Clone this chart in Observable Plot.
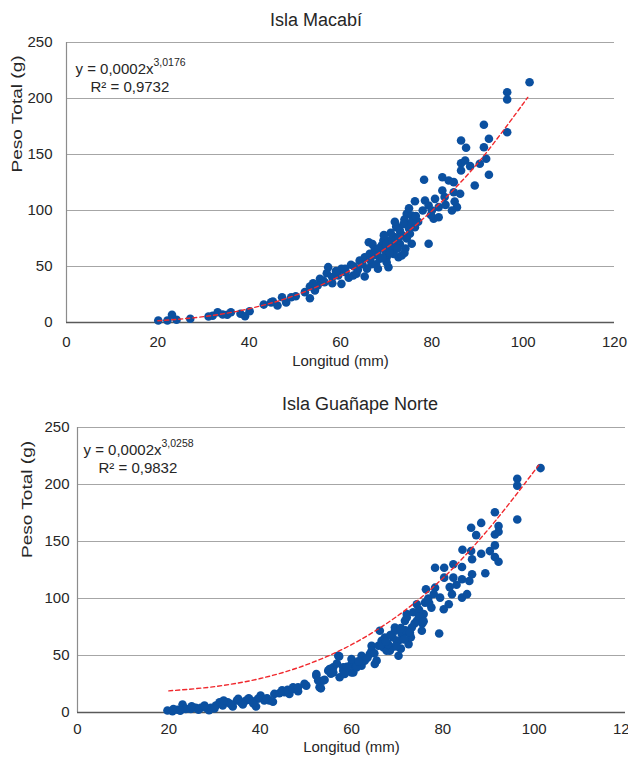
<!DOCTYPE html>
<html>
<head>
<meta charset="utf-8">
<script src="https://cdn.jsdelivr.net/npm/d3@7"></script>
<script src="https://cdn.jsdelivr.net/npm/@observablehq/plot@0.6"></script>
<style>
  body { margin: 0; background: #fff; font-family: "Liberation Sans", Arial, sans-serif; }
  #page { position: relative; width: 628px; height: 760px; overflow: hidden; background: #fff; }
  .title { position: absolute; font-size: 18px; line-height: 18px; color: #262626; white-space: nowrap; transform: translateX(-50%); }
  .chart { position: absolute; left: 0; }
</style>
</head>
<body>
<div id="page">
  <div class="title" style="left:316px; top:11px;">Isla Macabí</div>
  <div class="chart" id="macabi" style="top:32px;"></div>
  <div class="title" style="left:360px; top:395px;">Isla Guañape Norte</div>
  <div class="chart" id="guanape" style="top:417px;"></div>
</div>
<script>
// Axis ticks shared by both panels
const xTicks = [0, 20, 40, 60, 80, 100, 120];
const yTicks = [0, 50, 100, 150, 200, 250];

// Isla Macabí: total length (mm) and total weight (g) of each specimen
const macabiLength = [
  20.1, 22.1, 23.1, 24.1, 27.1, 31.1, 32.0, 33.1, 34.2, 35.2, 36.0, 38.1, 39.1, 40.1,
  43.2, 44.8, 45.2, 46.2, 47.2, 48.1, 49.2, 50.2, 52.2, 53.3, 53.3, 54.4, 55.5, 56.2,
  57.3, 58.2, 58.2, 60.2, 60.2, 61.1, 62.3, 62.8, 63.5, 64.2, 65.3, 65.3, 66.2, 66.4,
  67.5, 68.6, 69.4, 70.1, 70.5, 71.2, 72.2, 72.7, 101.4, 96.5, 96.5, 96.5, 91.4, 92.5,
  91.4, 91.9, 92.5, 90.5, 86.4, 87.5, 86.4, 87.3, 86.4, 88.4, 89.4, 78.3, 82.3, 83.7,
  84.8, 82.3, 84.8, 86.2, 85.5, 84.4, 76.3, 78.5, 79.3, 80.7, 81.5, 80.4, 81.5, 79.3,
  74.5, 75.6, 74.9, 76.3, 75.2, 72.3, 73.0, 70.5, 69.0, 71.6, 70.1, 73.4, 75.6, 74.0,
  75.0, 73.5, 74.2, 72.0, 68.0, 67.0, 69.8, 71.0, 76.0, 77.0, 66.8, 68.2, 63.8, 64.8,
  61.8, 59.5, 57.0, 56.5, 80.0, 82.8, 83.0, 79.8, 85.0, 78.0, 65.8, 66.5, 67.2, 68.3,
  69.2, 70.0, 70.8, 71.5, 72.5, 73.0, 73.8, 74.5, 75.0, 75.8, 76.5, 74.0, 72.8, 71.9,
  69.5, 67.8, 63.0, 61.0, 59.0, 55.0, 54.0
];
const macabiWeight = [
  1.8, 1.8, 6.9, 2.4, 3.3, 5.4, 6.0, 9.2, 7.1, 6.9, 9.2, 7.8, 5.6, 10.1,
  16.0, 18.0, 18.8, 15.2, 22.6, 17.9, 22.6, 23.5, 27.1, 32.1, 21.7, 28.6, 39.0, 37.5,
  49.4, 40.5, 35.1, 47.9, 34.5, 44.9, 51.5, 42.0, 43.5, 55.4, 41.1, 58.3, 71.7, 61.3,
  65.8, 56.9, 73.2, 58.3, 49.4, 67.2, 85.7, 58.3, 214.5, 205.6, 199.1, 169.9, 176.5, 164.0,
  156.5, 146.2, 131.9, 141.7, 162.5, 156.0, 142.2, 144.6, 135.7, 139.6, 122.3, 127.4, 129.7, 126.8,
  125.3, 117.9, 116.3, 114.9, 103.0, 100.0, 108.3, 108.9, 104.5, 110.4, 103.0, 92.6, 94.0, 70.3,
  97.0, 95.5, 88.1, 85.1, 79.2, 85.1, 70.3, 73.2, 68.8, 61.3, 53.8, 59.8, 70.3, 92.0,
  102.0, 78.0, 66.0, 76.0, 62.0, 70.0, 64.0, 80.0, 92.0, 90.0, 52.0, 48.0, 47.0, 52.0,
  40.0, 42.0, 44.0, 36.0, 100.0, 112.0, 105.0, 96.0, 108.0, 100.0, 48.0, 56.0, 60.0, 66.0,
  58.0, 70.0, 62.0, 72.0, 66.0, 82.0, 88.0, 75.0, 84.0, 90.0, 95.0, 62.0, 76.0, 90.0,
  78.0, 52.0, 50.0, 48.0, 46.0, 33.0, 35.0
];
// Isla Macabí: fitted power trend
const macabiTrendLength = [20, 30, 40, 50, 60, 70, 80, 90, 101];
const macabiTrendWeight = [1.5, 5.2, 12.3, 24.1, 41.8, 66.5, 99.6, 142, 201];

// Isla Guañape Norte: total length (mm) and total weight (g) of each specimen
const guanapeLength = [
  19.7, 20.8, 21.9, 23.0, 23.7, 24.8, 25.9, 27.0, 28.1, 29.2, 30.3, 31.1, 31.8, 32.9,
  34.0, 34.9, 35.8, 36.9, 38.0, 39.1, 40.1, 40.9, 42.0, 43.1, 44.2, 45.3, 46.4, 47.2,
  48.3, 21.0, 22.5, 26.5, 28.8, 30.0, 33.5, 36.2, 37.5, 39.5, 41.5, 42.8, 44.8, 46.0,
  25.0, 27.8, 32.0, 35.2, 38.5, 49.7, 52.3, 53.0, 53.8, 54.9, 56.0, 57.1, 58.2, 60.0,
  60.0, 62.2, 62.2, 64.0, 64.4, 65.5, 66.2, 47.2, 48.3, 50.1, 52.3, 52.7, 53.3, 54.1,
  55.2, 56.0, 57.4, 57.3, 58.2, 58.5, 60.0, 60.4, 61.1, 62.9, 64.4, 65.1, 65.9, 67.0,
  67.3, 68.4, 69.5, 69.9, 70.3, 71.0, 71.7, 72.1, 72.5, 101.4, 96.3, 96.3, 96.3, 91.4,
  92.2, 92.2, 91.4, 88.4, 86.2, 87.3, 91.4, 90.3, 91.4, 92.2, 88.4, 89.3, 84.3, 86.2,
  86.4, 86.4, 85.8, 84.2, 84.2, 82.3, 82.3, 80.3, 78.3, 80.3, 82.0, 84.2, 85.3, 81.3,
  80.2, 79.4, 78.3, 76.3, 76.1, 74.3, 75.8, 74.3, 75.4, 73.2, 72.1, 71.4, 69.5, 70.3,
  79.2, 67.7, 66.6, 68.8, 73.5, 74.8, 75.5, 73.0, 71.8, 70.8, 68.0, 69.0, 76.8, 77.5,
  83.0, 81.5, 61.5, 63.5, 65.0, 66.5, 67.5, 68.5, 69.8, 70.8, 71.5, 72.8, 73.8, 74.8,
  75.8, 77.0, 78.0, 59.0, 56.8, 55.5
];
const guanapeWeight = [
  1.7, 1.1, 2.4, 7.0, 3.2, 3.2, 4.1, 4.1, 4.1, 4.1, 6.1, 9.0, 6.1, 9.0,
  5.2, 10.5, 9.0, 10.5, 10.5, 5.2, 14.9, 10.5, 10.5, 16.3, 16.9, 17.7, 16.3, 22.1,
  18.6, 3.0, 1.5, 2.5, 2.0, 3.5, 7.5, 7.0, 12.5, 12.0, 12.5, 9.5, 19.5, 20.0,
  5.5, 6.0, 10.5, 12.0, 8.0, 25.1, 33.8, 22.1, 28.0, 36.7, 39.6, 49.8, 36.7, 42.6,
  35.2, 49.8, 41.1, 51.3, 58.6, 45.5, 71.7, 20.7, 22.1, 23.6, 32.3, 28.0, 21.2, 28.6,
  38.2, 35.2, 30.9, 49.2, 39.6, 33.8, 46.9, 35.2, 39.6, 45.5, 54.2, 42.6, 58.6, 57.1,
  65.8, 54.2, 74.6, 62.9, 49.8, 68.8, 80.4, 86.3, 60.0, 214.4, 205.1, 199.0, 169.3, 175.7,
  163.5, 158.5, 156.2, 166.3, 162.0, 155.6, 146.6, 141.6, 136.4, 132.3, 139.3, 122.1, 142.8, 141.6,
  134.4, 121.2, 115.4, 116.9, 127.6, 130.0, 118.3, 127.0, 127.0, 118.3, 103.8, 100.8, 103.8, 95.0,
  90.6, 100.8, 109.5, 108.1, 96.4, 95.0, 86.3, 80.4, 71.7, 74.6, 83.3, 68.8, 71.7, 62.9,
  69.3, 54.2, 62.9, 57.1, 88.0, 90.0, 78.0, 66.0, 72.0, 56.0, 60.0, 66.0, 100.0, 92.0,
  112.0, 110.0, 45.0, 48.0, 52.0, 60.0, 62.0, 68.0, 58.0, 74.0, 64.0, 70.0, 78.0, 84.0,
  80.0, 96.0, 104.0, 40.0, 43.0, 34.0
];
// Isla Guañape Norte: fitted power trend
const guanapeTrendLength = [20, 30, 40, 50, 60, 70, 80, 90, 101];
const guanapeTrendWeight = [19, 22.7, 29.8, 41.7, 59.5, 84.5, 117.8, 160.8, 217];

const FONT = '"Liberation Sans", Arial, sans-serif';
const DOT = "#0b50a0";
const TREND = "#f0282d";
const Y_TITLE = "Peso Total (g)";

function panel(o) {
  const points = o.length.map((x, i) => ({x, y: o.weight[i]}));
  const trend = o.trendLength.map((x, i) => ({x, y: o.trendWeight[i]}));
  const svg = Plot.plot({
    width: 628,
    height: o.height,
    marginLeft: o.marginLeft,
    marginRight: o.marginRight,
    marginTop: o.marginTop,
    marginBottom: o.marginBottom,
    style: {fontFamily: FONT, fontSize: "15px", color: "#262626", background: "#fff"},
    x: {domain: [0, 120]},
    y: {domain: [0, 250]},
    marks: [
      Plot.gridY(yTicks.slice(1), {stroke: "#a6a6a6", strokeOpacity: 1, strokeWidth: 1.2}),
      Plot.ruleX([0], {stroke: "#8c8c8c", strokeWidth: 1.2}),
      Plot.ruleY([0], {stroke: "#595959", strokeWidth: 1.4}),
      Plot.axisX(xTicks, {tickSize: 0, tickPadding: o.xTickPadding, label: null, fontSize: 15}),
      Plot.axisY(yTicks, {tickSize: 0, tickPadding: o.yTickPadding, label: null, fontSize: 15}),
      Plot.dot(points, {x: "x", y: "y", r: 4.3, fill: DOT, stroke: null}),
      Plot.line(trend, {x: "x", y: "y", stroke: TREND, strokeWidth: 1.4, strokeDasharray: "4,3", curve: "catmull-rom"}),
      // axis titles
      Plot.text(["Longitud (mm)"], {text: d => d, frameAnchor: "bottom", dy: o.xLabelDy, fontSize: 15}),
      Plot.text([Y_TITLE], {text: d => d, frameAnchor: "left", rotate: -90, dx: o.yLabelDx, dy: o.yLabelDy, fontSize: 15}),
      // trend equation and coefficient of determination
      Plot.text([o.eqBase], {text: d => d, frameAnchor: "top-left", textAnchor: "start", dx: o.eqDx, dy: o.eqDy, fontSize: 15}),
      Plot.text([o.eqExp], {text: d => d, frameAnchor: "top-left", textAnchor: "start", dx: o.eqDx + 78, dy: o.eqDy - 5, fontSize: 10.5}),
      Plot.text([o.r2], {text: d => d, frameAnchor: "top-left", textAnchor: "start", dx: o.eqDx + 15, dy: o.eqDy + 18, fontSize: 15})
    ]
  });
  // the vertical axis title is set in a tall, elongated face
  d3.select(svg).selectAll("text")
    .filter(function() { return this.textContent === Y_TITLE; })
    .attr("transform", function() { return (this.getAttribute("transform") || "") + " scale(1.27,1)"; });
  return svg;
}

document.getElementById("macabi").append(panel({
  length: macabiLength, weight: macabiWeight,
  trendLength: macabiTrendLength, trendWeight: macabiTrendWeight,
  height: 353, marginLeft: 66, marginRight: 14, marginTop: 10, marginBottom: 63,
  xTickPadding: 14, yTickPadding: 14, xLabelDy: 43, yLabelDx: -49, yLabelDy: -10,
  eqBase: "y = 0,0002x", eqExp: "3,0176", r2: "R² = 0,9732", eqDx: 9, eqDy: 21
}));

document.getElementById("guanape").append(panel({
  length: guanapeLength, weight: guanapeWeight,
  trendLength: guanapeTrendLength, trendWeight: guanapeTrendWeight,
  height: 343, marginLeft: 77, marginRight: 3, marginTop: 10, marginBottom: 48,
  xTickPadding: 11, yTickPadding: 8, xLabelDy: 39, yLabelDx: -50, yLabelDy: -12,
  eqBase: "y = 0,0002x", eqExp: "3,0258", r2: "R² = 0,9832", eqDx: 6, eqDy: 17
}));
</script>
</body>
</html>
